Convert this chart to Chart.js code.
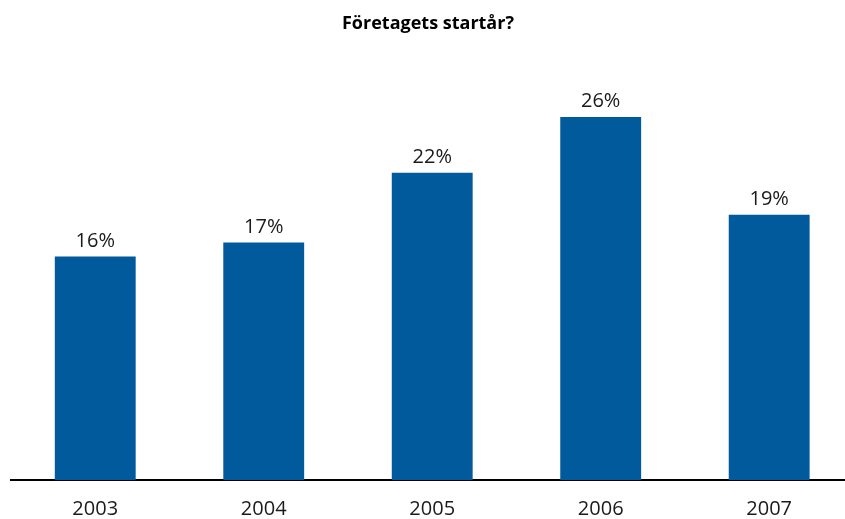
<!DOCTYPE html>
<html>
<head>
<meta charset="utf-8">
<script src="https://cdn.jsdelivr.net/npm/chart.js@4"></script>
<style>
html,body{margin:0;padding:0;background:#fff;overflow:hidden;}
#wrap{width:845px;height:519px;position:relative;}
</style>
</head>
<body>
<div id="wrap"><canvas id="c"></canvas></div>
<script>
const titleText = 'Företagets startår?';
const years = [2003, 2004, 2005, 2006, 2007];
const shares = [16, 17, 22, 26, 19];

const barColor = '#005a9b';
const fontFamily = '"Open Sans", "Noto Sans", sans-serif';

const valueLabels = {
  id: 'valueLabels',
  afterDatasetsDraw(chart) {
    const ctx = chart.ctx;
    const meta = chart.getDatasetMeta(0);
    ctx.save();
    ctx.font = '20px ' + fontFamily;
    ctx.fillStyle = '#1a1a1a';
    ctx.textAlign = 'center';
    ctx.textBaseline = 'alphabetic';
    meta.data.forEach((bar, i) => {
      ctx.fillText(shares[i] + '%', bar.x, bar.y - 10);
    });
    ctx.restore();
  }
};

new Chart(document.getElementById('c'), {
  type: 'bar',
  data: {
    datasets: [{
      data: years.map((y, i) => ({x: y, y: shares[i]})),
      backgroundColor: barColor,
      borderWidth: 0,
      barPercentage: 0.6,
      categoryPercentage: 0.8
    }]
  },
  options: {
    responsive: true,
    maintainAspectRatio: false,
    animation: false,
    layout: {padding: {left: 11, right: 0, top: 13, bottom: -19}},
    plugins: {
      legend: {display: false},
      tooltip: {enabled: false},
      title: {
        display: true,
        text: titleText,
        color: '#000',
        font: {family: fontFamily, size: 18, weight: 'bold'},
        padding: {top: 0, bottom: 26.5}
      }
    },
    scales: {
      x: {
        type: 'linear',
        offset: false,
        min: 2002.5,
        max: 2007.45,
        grid: {display: false, drawTicks: false},
        border: {display: true, color: '#000', width: 2},
        ticks: {
          stepSize: 1,
          includeBounds: false,
          autoSkip: false,
          maxRotation: 0,
          color: '#1a1a1a',
          font: {family: fontFamily, size: 20},
          padding: 17,
          callback: v => String(v)
        }
      },
      y: {
        display: false,
        min: 0,
        max: 30
      }
    }
  },
  plugins: [valueLabels]
});
</script>
</body>
</html>
